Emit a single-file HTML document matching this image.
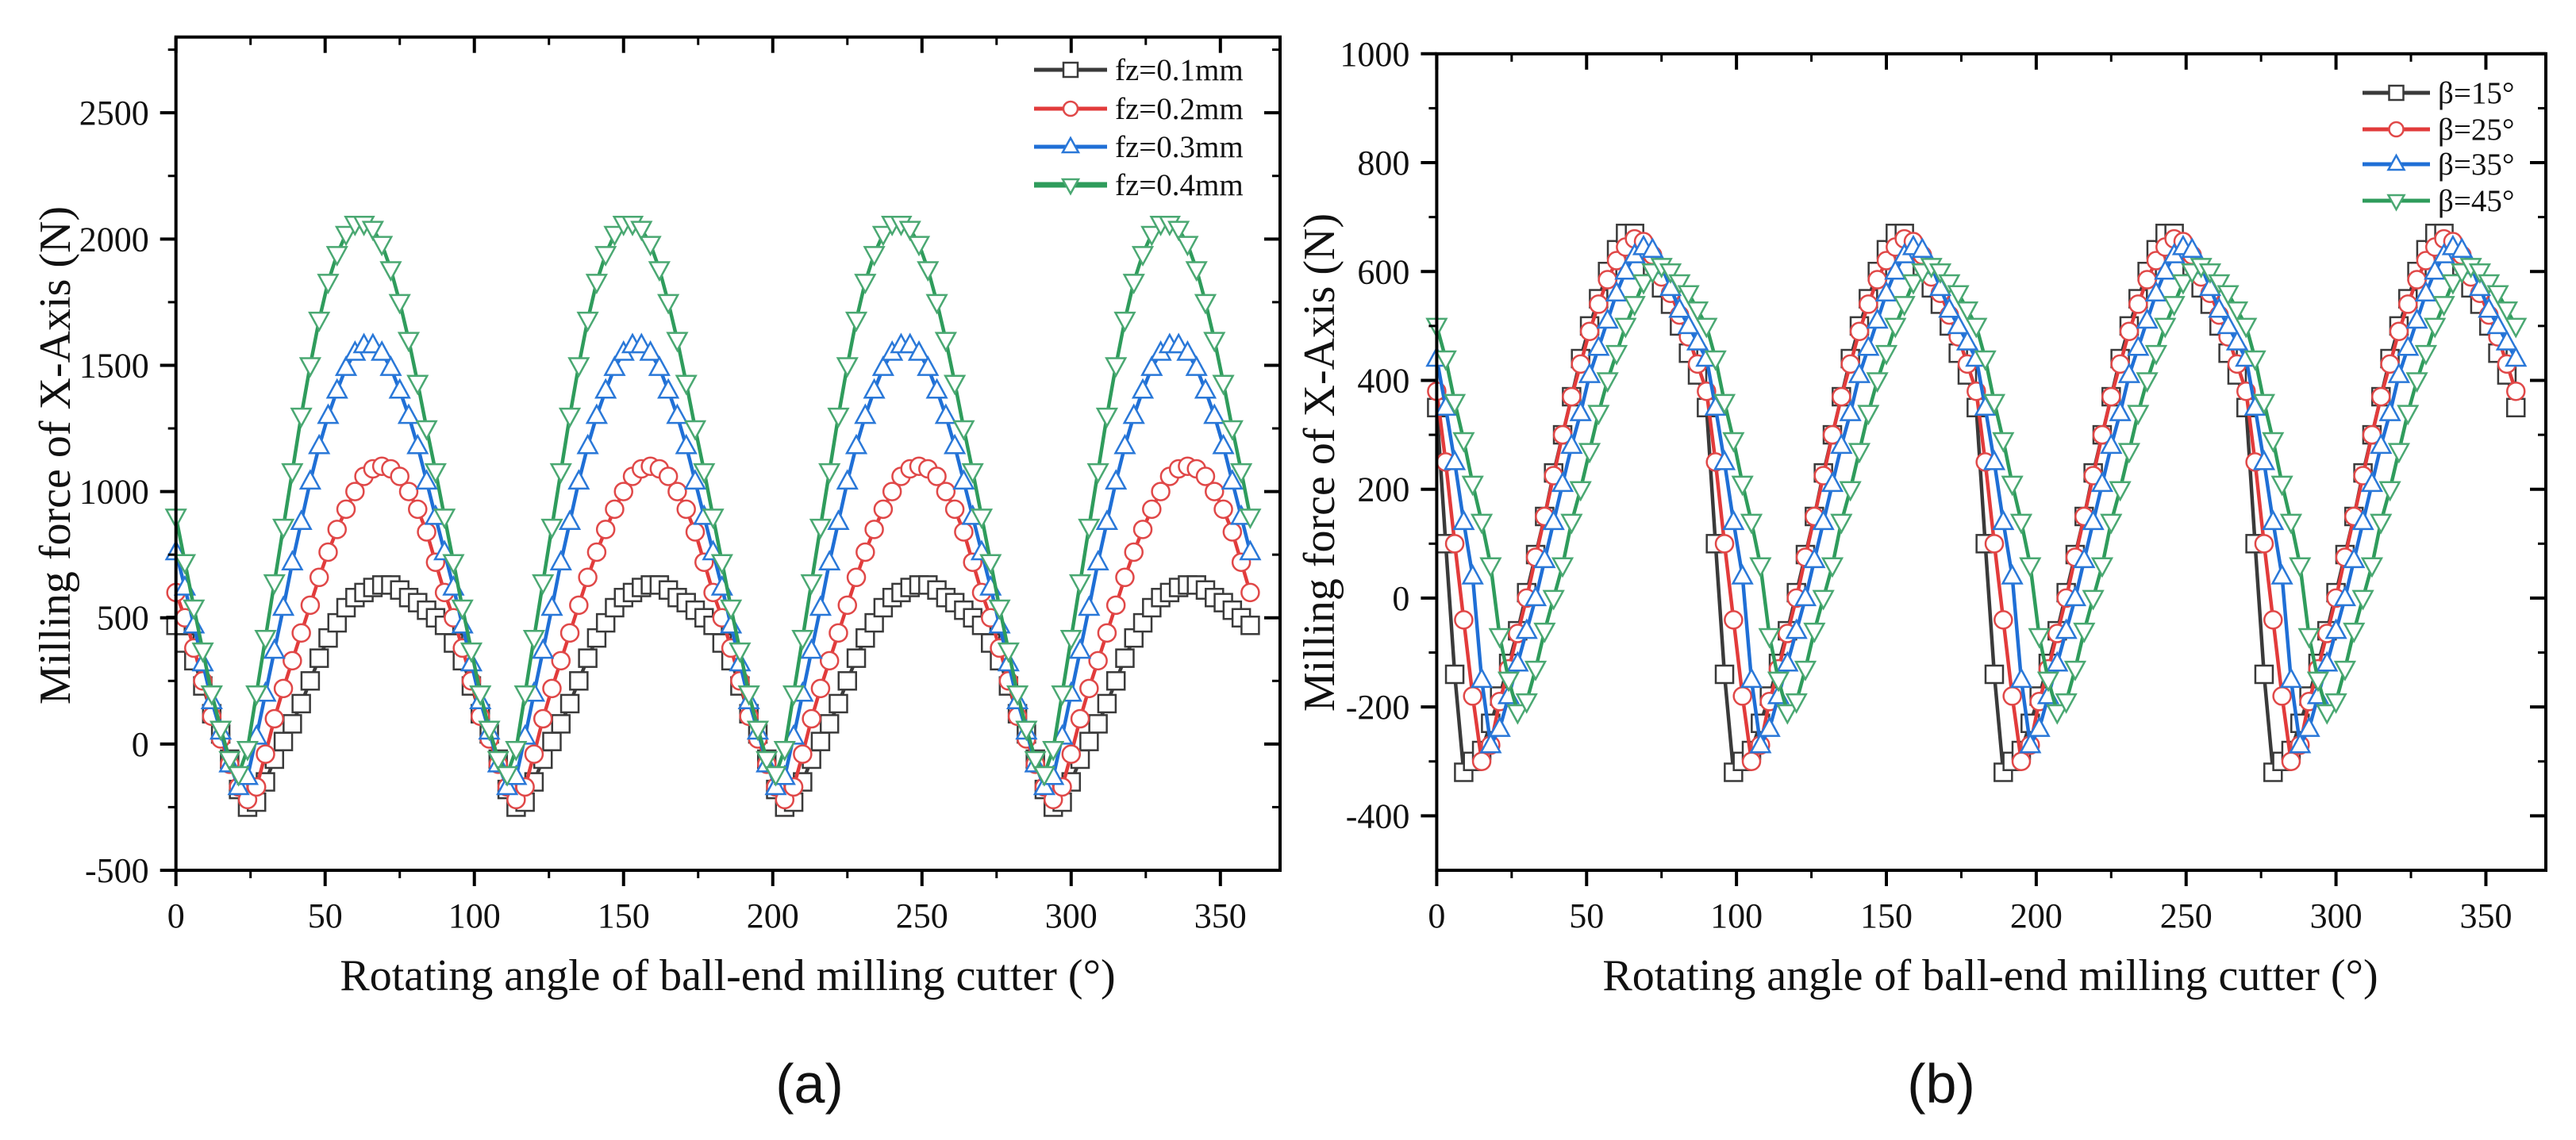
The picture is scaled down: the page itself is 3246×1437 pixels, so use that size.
<!DOCTYPE html>
<html><head><meta charset="utf-8"><style>
html,body{margin:0;padding:0;background:#fff;}
svg{display:block;}
text{font-family:"Liberation Serif",serif;fill:#111;}
</style></head><body>
<svg id="svg" width="3246" height="1437" viewBox="0 0 3246 1437" xmlns="http://www.w3.org/2000/svg"></svg>
<script>
// ---- data (one period, 0..87 deg step 3; pattern repeats every 90 deg) ----
const stepDeg = 3;
const periodDeg = 90;
const xMaxData = 360;
const fz01 = [470,400,330,230,120,40,-60,-180,-250,-230,-150,-60,10,80,160,250,340,420,480,540,580,600,620,630,630,610,580,560,530,500];
const fz02 = [600,500,380,250,110,20,-80,-170,-220,-170,-40,100,220,330,440,550,660,760,850,930,1000,1060,1090,1100,1090,1060,1000,930,840,720];
const fz03 = [760,620,470,320,170,50,-80,-170,-130,30,200,370,540,720,880,1040,1180,1300,1400,1490,1550,1580,1580,1550,1490,1400,1300,1180,1040,900];
const fz04 = [900,720,540,370,200,60,-60,-120,-20,200,420,640,860,1080,1300,1500,1680,1830,1940,2020,2060,2060,2040,1980,1880,1750,1600,1430,1250,1080];
const b15 = [350,100,-140,-320,-300,-280,-230,-180,-120,-60,10,80,150,230,300,370,440,500,550,600,640,670,670,640,610,570,540,500,450,410];
const b25 = [380,250,100,-40,-180,-300,-270,-190,-130,-65,0,75,150,225,300,370,430,490,540,585,620,645,660,655,630,590,560,520,480,430];
const b35 = [440,350,250,140,40,-150,-270,-240,-180,-120,-60,0,70,140,210,280,340,410,460,510,560,600,630,645,640,610,570,530,500,470];
const b45 = [500,440,360,290,210,140,60,-70,-150,-210,-190,-130,-60,0,60,140,200,270,340,400,450,500,540,580,600,610,600,580,560,530];
const xTicksA = [0,50,100,150,200,250,300,350];
const yTicksA = [-500,0,500,1000,1500,2000,2500];
const yTicksB = [-400,-200,0,200,400,600,800,1000];
const legendA = ["fz=0.1mm","fz=0.2mm","fz=0.3mm","fz=0.4mm"];
const legendB = ["β=15°","β=25°","β=35°","β=45°"];

const NS="http://www.w3.org/2000/svg";
const svg=document.getElementById('svg');
function mk(tag,attrs,parent){const e=document.createElementNS(NS,tag);for(const k in attrs)e.setAttribute(k,attrs[k]);(parent||svg).appendChild(e);return e;}
const colors=["#3a3a3a","#e23b3b","#1f6fd6","#2f9c5c"];
const mcolors=["#3a3a3a","#e04848","#2a78d8","#4aa872"];
const shapes=["square","circle","tri","tridown"];

function marker(g,shape,x,y,c,s){
  s=s||11;let e;
  if(shape==="square")e=mk('rect',{x:x-s,y:y-s,width:2*s,height:2*s},g);
  else if(shape==="circle")e=mk('circle',{cx:x,cy:y,r:s},g);
  else if(shape==="tri")e=mk('polygon',{points:`${x},${y-s-2} ${x-s-1},${y+s-2} ${x+s+1},${y+s-2}`},g);
  else e=mk('polygon',{points:`${x},${y+s+2} ${x-s-1},${y-s+2} ${x+s+1},${y-s+2}`},g);
  e.setAttribute('fill','#fff');e.setAttribute('stroke',c);e.setAttribute('stroke-width','2.5');
  
  
}

function chart(o){
  const g=mk('g',{});
  
  
  const X=v=>o.x0+(v-o.xmin)/(o.xmax-o.xmin)*(o.x1-o.x0);
  const Y=v=>o.y1-(v-o.ymin)/(o.ymax-o.ymin)*(o.y1-o.y0);
  o.series.forEach((arr,si)=>{
    const sg=mk('g',{},g);
    
    
    const pts=[];
    for(let a=0;a<=xMaxData;a+=stepDeg){const idx=Math.round((a%periodDeg)/stepDeg);pts.push([X(a),Y(arr[idx])]);}
    const p=mk('polyline',{points:pts.map(p=>p[0].toFixed(1)+','+p[1].toFixed(1)).join(' '),fill:'none',stroke:colors[si],'stroke-width':4.5},sg);
    
    
    pts.forEach(pt=>marker(sg,shapes[si],pt[0],pt[1],mcolors[si]));
  });
  const fr=mk('rect',{x:o.x0,y:o.y0,width:o.x1-o.x0,height:o.y1-o.y0,fill:'none',stroke:'#000','stroke-width':4},g);
  
  o.xticks.forEach((t,i)=>{
    const x=X(t);
    mk('line',{x1:x,y1:o.y1,x2:x,y2:o.y1+20,stroke:'#000','stroke-width':4},g);
    mk('line',{x1:x,y1:o.y0,x2:x,y2:o.y0+20,stroke:'#000','stroke-width':4},g);
    const xm=X(t+25);
    if(t+25<o.xmax){mk('line',{x1:xm,y1:o.y1,x2:xm,y2:o.y1+10,stroke:'#000','stroke-width':3},g);mk('line',{x1:xm,y1:o.y0,x2:xm,y2:o.y0+10,stroke:'#000','stroke-width':3},g);}
    const tx=mk('text',{x:x,y:o.y1+72,'text-anchor':'middle','font-size':44},g);tx.textContent=t;
    
  });
  o.yticks.forEach((t,i)=>{
    const y=Y(t);
    mk('line',{x1:o.x0-20,y1:y,x2:o.x0,y2:y,stroke:'#000','stroke-width':4},g);
    mk('line',{x1:o.x1-20,y1:y,x2:o.x1,y2:y,stroke:'#000','stroke-width':4},g);
    const ym=Y(t+o.ystep/2);
    if(t+o.ystep/2<o.ymax){mk('line',{x1:o.x0-10,y1:ym,x2:o.x0,y2:ym,stroke:'#000','stroke-width':3},g);mk('line',{x1:o.x1-10,y1:ym,x2:o.x1,y2:ym,stroke:'#000','stroke-width':3},g);}
    const tx=mk('text',{x:o.x0-34,y:y+15,'text-anchor':'end','font-size':44},g);tx.textContent=t;
    
  });
  const xt=mk('text',{x:o.xtx,y:1248,'text-anchor':'middle','font-size':56},g);xt.textContent="Rotating angle of ball-end milling cutter (°)";
  
  const yt=mk('text',{x:0,y:0,'text-anchor':'middle','font-size':56,transform:`translate(${o.ytx},${o.yty}) rotate(-90)`},g);yt.textContent="Milling force of X-Axis (N)";
  
  const lg=mk('g',{},g);
  
  o.legend.forEach((l,i)=>{
    const y=o.ly[i];
    mk('line',{x1:o.lx0,y1:y,x2:o.lx1,y2:y,stroke:colors[i],'stroke-width':i===3&&o.name==='chart-a'?7:5},lg);
    marker(lg,shapes[i],(o.lx0+o.lx1)/2,y,mcolors[i],9);
    const tx=mk('text',{x:o.lx1+10,y:y+13,'font-size':39},lg);tx.textContent=l;
    
  });
  const pl=mk('text',{x:o.plx,y:1390,'text-anchor':'middle','font-size':70,style:'font-family:"Liberation Sans",sans-serif'},g);pl.textContent=o.panel;
  
}

chart({name:'chart-a',x0:221.7,x1:1613,y0:46.7,y1:1097,xmin:0,xmax:370,ymin:-500,ymax:2800,ystep:500,
  series:[fz01,fz02,fz03,fz04],xticks:xTicksA,yticks:yTicksA,xtx:917,ytx:88,yty:574,
  legend:legendA,lx0:1303,lx1:1395,ly:[88,137,185,233],panel:'(a)',plx:1020});
chart({name:'chart-b',x0:1810.4,x1:3208,y0:67.8,y1:1097,xmin:0,xmax:370,ymin:-500,ymax:1000,ystep:200,
  series:[b15,b25,b35,b45],xticks:xTicksA,yticks:yTicksB,xtx:2508,ytx:1681,yty:583,
  legend:legendB,lx0:2977,lx1:3062,ly:[117,163,207,253],panel:'(b)',plx:2446});
</script>
</body></html>
